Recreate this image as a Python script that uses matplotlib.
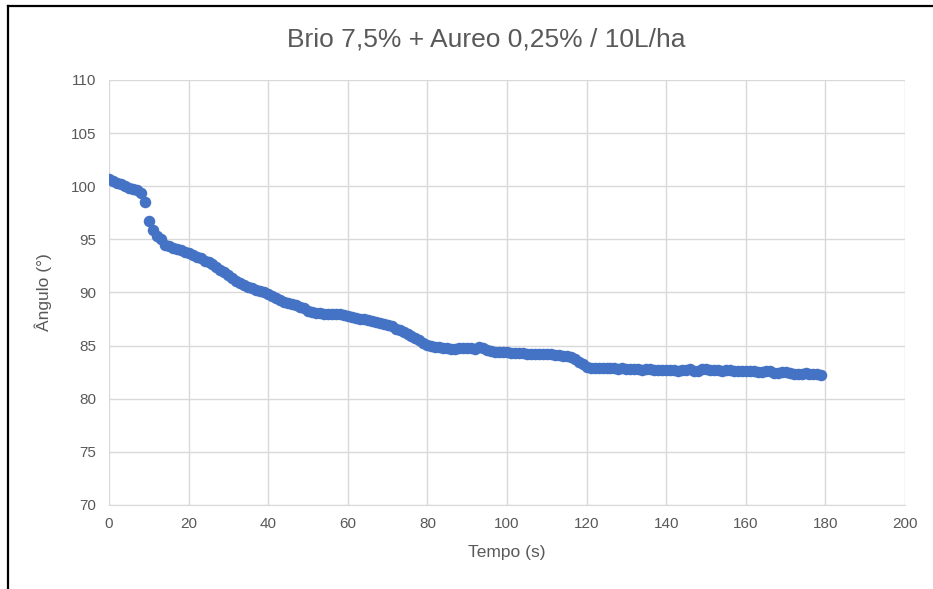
import matplotlib
matplotlib.use("Agg")
import matplotlib.pyplot as plt
from matplotlib.lines import Line2D

tempo = list(range(180))
angulo = [
    100.7, 100.5, 100.3, 100.2, 100.0, 99.8, 99.7, 99.6, 99.4, 98.5,
    96.7, 95.9, 95.3, 95.0, 94.5, 94.4, 94.2, 94.1, 94.0, 93.8,
    93.7, 93.5, 93.3, 93.2, 93.0, 92.9, 92.7, 92.4, 92.1, 91.9,
    91.6, 91.4, 91.1, 90.9, 90.7, 90.5, 90.4, 90.2, 90.1, 90.0,
    89.9, 89.7, 89.5, 89.3, 89.1, 89.0, 88.9, 88.8, 88.6, 88.5,
    88.3, 88.2, 88.1, 88.1, 88.0, 88.0, 88.0, 88.0, 88.0, 87.9,
    87.8, 87.7, 87.6, 87.5, 87.5, 87.4, 87.3, 87.2, 87.1, 87.0,
    86.9, 86.8, 86.6, 86.5, 86.3, 86.1, 85.9, 85.7, 85.5, 85.2,
    85.1, 85.0, 84.9, 84.9, 84.8, 84.8, 84.7, 84.7, 84.8, 84.8,
    84.8, 84.8, 84.7, 84.9, 84.8, 84.6, 84.5, 84.4, 84.4, 84.4,
    84.4, 84.3, 84.3, 84.3, 84.3, 84.2, 84.2, 84.2, 84.2, 84.2,
    84.2, 84.2, 84.1, 84.1, 84.0, 84.0, 83.9, 83.7, 83.5, 83.3,
    83.0, 82.9, 82.9, 82.9, 82.9, 82.9, 82.9, 82.9, 82.8, 82.9,
    82.8, 82.8, 82.8, 82.8, 82.7, 82.8, 82.8, 82.7, 82.7, 82.7,
    82.7, 82.7, 82.7, 82.6, 82.7, 82.7, 82.8, 82.6, 82.6, 82.8,
    82.8, 82.7, 82.7, 82.7, 82.6, 82.7, 82.7, 82.6, 82.6, 82.6,
    82.6, 82.6, 82.6, 82.5, 82.5, 82.6, 82.6, 82.4, 82.4, 82.5,
    82.5, 82.4, 82.3, 82.3, 82.3, 82.4, 82.3, 82.3, 82.3, 82.2,
]

titulo = "Brio 7,5% + Aureo 0,25% / 10L/ha"
xlabel = "Tempo (s)"
ylabel = "Ângulo (°)"
xticks = list(range(0, 201, 20))
yticks = list(range(70, 111, 5))

plt.rcParams['font.family'] = ['Liberation Sans', 'DejaVu Sans']
txt = '#595959'
grid = '#d9d9d9'

fig = plt.figure(figsize=(9.33, 5.89), dpi=100)
ax = fig.add_axes([109/933, 1-505/589, (905-109)/933, (505-80)/589])

ax.plot(tempo, angulo, linestyle='none', marker='o', markersize=8.3,
        color='#4472c4', markeredgewidth=0, zorder=3)

ax.set_xlim(0, 200)
ax.set_ylim(70, 110)
ax.set_xticks(xticks)
ax.set_yticks(yticks)
ax.grid(True, color=grid, linewidth=1)
ax.set_axisbelow(True)
for s in ['top', 'right', 'left']:
    ax.spines[s].set_visible(False)
ax.spines['bottom'].set_color(grid)
ax.tick_params(length=0, colors=txt, labelsize=11, pad=9)

ax.set_xlabel(xlabel, color=txt, fontsize=12.5, labelpad=10)
ax.set_ylabel(ylabel, color=txt, fontsize=12.5, labelpad=14)
fig.text(486/933, 1-40/589, titulo, ha='center', va='center', color=txt, fontsize=19)

# frame of screenshot
fig.add_artist(Line2D([8/933, 8/933], [0, 1-6/589], transform=fig.transFigure, color='black', linewidth=1.6))
fig.add_artist(Line2D([8/933, 1], [1-6/589, 1-6/589], transform=fig.transFigure, color='black', linewidth=1.6))

fig.savefig('out.png', dpi=100)
